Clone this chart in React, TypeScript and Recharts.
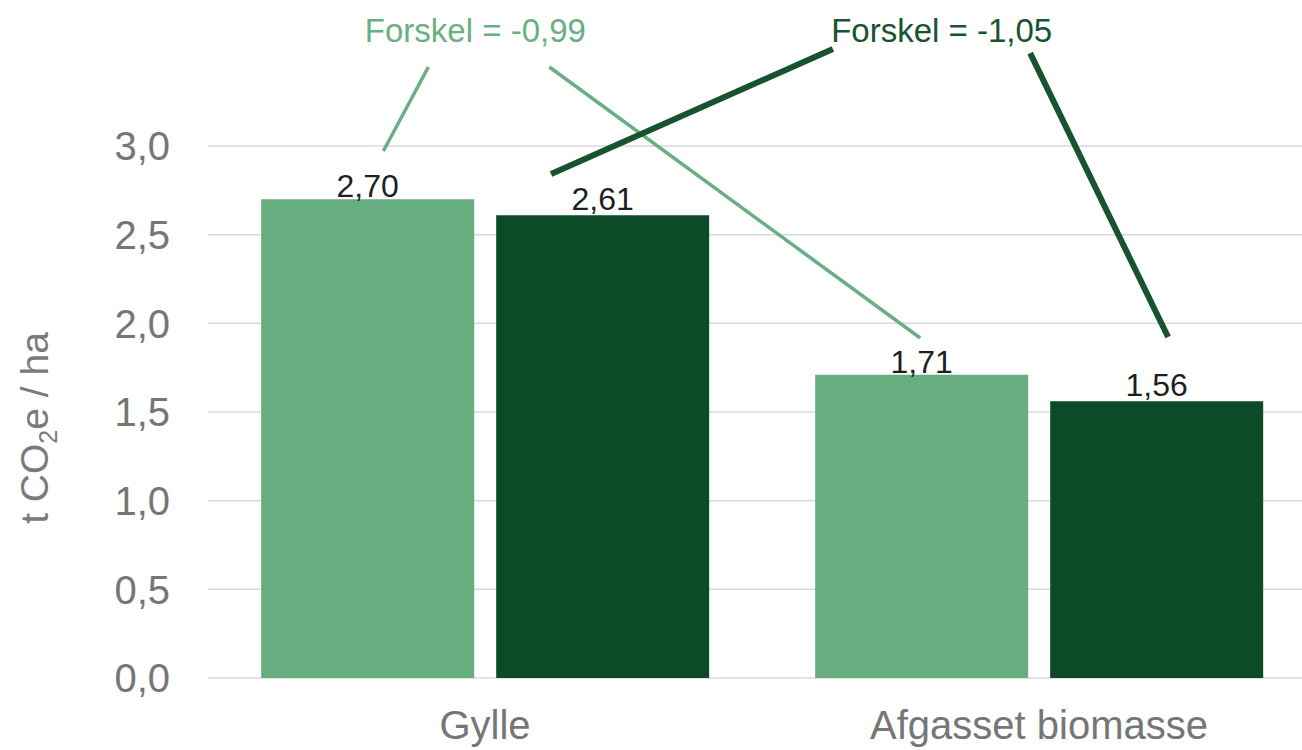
import React from 'react';
import { BarChart, Bar, XAxis, YAxis, CartesianGrid, LabelList, ReferenceLine, ReferenceDot } from 'recharts';

const categories = ['Gylle', 'Afgasset biomasse'];
const seriesLight = [2.70, 1.71];
const seriesDark = [2.61, 1.56];
const yTicks = [0, 0.5, 1.0, 1.5, 2.0, 2.5, 3.0];

// annotation callouts (hidden numeric x-axis 0..1 spanning the whole plot width)
const lightText = { label: 'Forskel = -0,99', x: 0.2413, y: 3.586 };
const darkText = { label: 'Forskel = -1,05', x: 0.6622, y: 3.588 };
const lightSegments = [
  [{ x: 0.1989, y: 3.4455 }, { x: 0.1583, y: 2.9718 }],
  [{ x: 0.3081, y: 3.4455 }, { x: 0.6428, y: 1.9173 }],
];
const darkSegments = [
  [{ x: 0.564, y: 3.547 }, { x: 0.3096, y: 2.842 }],
  [{ x: 0.742, y: 3.524 }, { x: 0.8665, y: 1.923 }],
];

const data = categories.map((c, i) => ({ category: c, light: seriesLight[i], dark: seriesDark[i] }));

const FONT = '"Liberation Sans", Arial, sans-serif';
const LIGHT = '#67ad80';
const DARK = '#0b4b27';
const LIGHT_TXT = '#6aaf84';
const DARK_TXT = '#17532f';

const fmt1 = (v: number) => v.toFixed(1).replace('.', ',');
const fmt2 = (v: any) => Number(v).toFixed(2).replace('.', ',');

const makeTextShape = (label: string, color: string) => (p: any) => (
  <text x={p.cx} y={p.cy} textAnchor="middle" fontSize={33} fill={color} fontFamily={FONT}>
    {label}
  </text>
);

export default function App() {
  return (
    <div style={{ position: 'absolute', left: 0, top: 0, width: 1302, height: 750, overflow: 'hidden', background: '#fff', fontFamily: FONT }}>
      <BarChart
        width={1316}
        height={750}
        data={data}
        margin={{ top: 146, right: 0, bottom: 0, left: 0 }}
        barGap={22}
        barCategoryGap="9.6%"
        style={{ fontFamily: FONT }}
      >
        <CartesianGrid xAxisId="cat" vertical={false} stroke="#d9d9d9" strokeWidth={1.5} />
        <XAxis
          xAxisId="cat"
          dataKey="category"
          axisLine={false}
          tickLine={false}
          tickSize={0}
          tickMargin={33}
          height={72}
          interval={0}
          tick={{ fontSize: 40, fill: '#767676', fontFamily: FONT }}
        />
        <XAxis xAxisId="num" type="number" domain={[0, 1]} hide allowDataOverflow />
        <YAxis
          domain={[0, 3]}
          ticks={yTicks}
          width={208}
          axisLine={false}
          tickLine={false}
          tickSize={0}
          tickMargin={38}
          tickFormatter={fmt1}
          tick={{ fontSize: 40, fill: '#767676', fontFamily: FONT }}
          label={{
            content: () => (
              <text
                x={48}
                y={428}
                transform="rotate(-90, 48, 428)"
                textAnchor="middle"
                fontSize={39}
                fill="#7a7a7a"
                fontFamily={FONT}
              >
                t CO<tspan dy={9} fontSize={25}>2</tspan>
                <tspan dy={-9}>e / ha</tspan>
              </text>
            ),
          }}
        />
        <Bar xAxisId="cat" dataKey="light" fill={LIGHT} isAnimationActive={false}>
          <LabelList dataKey="light" position="top" offset={2} formatter={fmt2} style={{ fontSize: 32, fill: '#1f1f1f', fontFamily: FONT }} />
        </Bar>
        <Bar xAxisId="cat" dataKey="dark" fill={DARK} isAnimationActive={false}>
          <LabelList dataKey="dark" position="top" offset={5} formatter={fmt2} style={{ fontSize: 32, fill: '#1f1f1f', fontFamily: FONT }} />
        </Bar>
        {lightSegments.map((s, i) => (
          <ReferenceLine key={'l' + i} xAxisId="num" segment={s} stroke={LIGHT_TXT} strokeWidth={3.5} ifOverflow="visible" />
        ))}
        {darkSegments.map((s, i) => (
          <ReferenceLine key={'d' + i} xAxisId="num" segment={s} stroke={DARK_TXT} strokeWidth={6} ifOverflow="visible" />
        ))}
        <ReferenceDot xAxisId="num" x={lightText.x} y={lightText.y} r={0} ifOverflow="visible" shape={makeTextShape(lightText.label, LIGHT_TXT)} />
        <ReferenceDot xAxisId="num" x={darkText.x} y={darkText.y} r={0} ifOverflow="visible" shape={makeTextShape(darkText.label, DARK_TXT)} />
      </BarChart>
    </div>
  );
}
